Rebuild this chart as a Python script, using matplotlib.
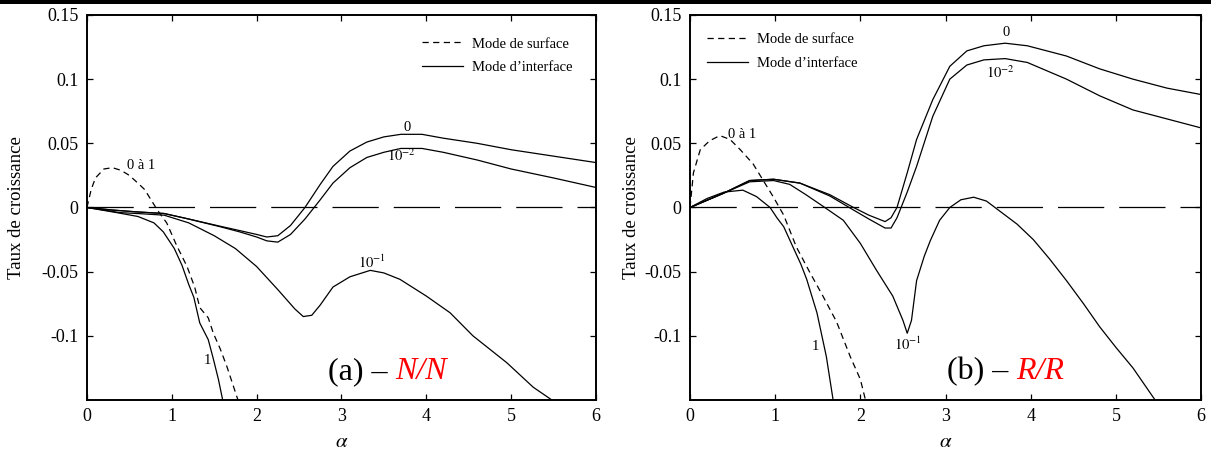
import matplotlib
matplotlib.use('Agg')
import matplotlib.pyplot as plt
from matplotlib.lines import Line2D
from matplotlib.patches import Rectangle

plt.rcParams['font.family'] = ['Liberation Serif', 'DejaVu Serif']
plt.rcParams['mathtext.fontset'] = 'stix'

# ---- data ----
# (a) N/N
nn_surf_x = [0, 0.05, 0.1, 0.2, 0.3, 0.4, 0.5, 0.6, 0.68, 0.83, 0.94, 1.06, 1.18, 1.27, 1.33, 1.43, 1.49, 1.57, 1.65, 1.72, 1.78]
nn_surf_y = [0, 0.014, 0.023, 0.030, 0.031, 0.029, 0.025, 0.019, 0.014, -0.002, -0.012, -0.030, -0.046, -0.062, -0.078, -0.086, -0.098, -0.110, -0.124, -0.138, -0.150]

nn_x = [0, 0.3, 0.6, 0.91, 1.2, 1.57, 1.8, 2.0, 2.12, 2.25, 2.4, 2.57, 2.75, 2.9, 3.1, 3.3, 3.5, 3.7, 3.95, 4.2, 4.6, 5.0, 5.5, 6.0]
nn_0 = [0, -0.002, -0.0035, -0.0047, -0.009, -0.0146, -0.018, -0.021, -0.023, -0.022, -0.014, 0.0, 0.018, 0.032, 0.044, 0.051, 0.055, 0.057, 0.057, 0.054, 0.050, 0.045, 0.040, 0.035]
nn_e2 = [0, -0.002, -0.0035, -0.0047, -0.009, -0.015, -0.019, -0.023, -0.026, -0.027, -0.021, -0.009, 0.006, 0.019, 0.031, 0.039, 0.043, 0.046, 0.046, 0.043, 0.037, 0.030, 0.023, 0.0156]

nn_e1_x = [0, 0.39, 0.67, 0.91, 1.2, 1.5, 1.75, 2.0, 2.25, 2.45, 2.55, 2.65, 2.75, 2.9, 3.1, 3.34, 3.5, 3.69, 4.0, 4.28, 4.55, 4.95, 5.26, 5.48]
nn_e1 = [0, -0.004, -0.005, -0.006, -0.012, -0.022, -0.032, -0.046, -0.064, -0.079, -0.085, -0.084, -0.076, -0.062, -0.054, -0.049, -0.051, -0.056, -0.069, -0.082, -0.100, -0.121, -0.140, -0.150]

nn_one_x = [0, 0.35, 0.6, 0.79, 0.9, 1.03, 1.12, 1.2, 1.26, 1.33, 1.43, 1.49, 1.55, 1.6]
nn_one = [0, -0.004, -0.007, -0.012, -0.019, -0.032, -0.045, -0.060, -0.070, -0.090, -0.103, -0.118, -0.134, -0.150]

# (b) R/R
rr_surf_x = [0, 0.04, 0.12, 0.23, 0.35, 0.47, 0.59, 0.74, 0.86, 0.98, 1.1, 1.25, 1.41, 1.56, 1.72, 1.88, 2.0, 2.06]
rr_surf_y = [0, 0.027, 0.045, 0.052, 0.056, 0.053, 0.045, 0.034, 0.021, 0.008, -0.006, -0.031, -0.051, -0.069, -0.089, -0.116, -0.134, -0.150]

rr_x = [0, 0.39, 0.7, 0.98, 1.29, 1.64, 1.92, 2.1, 2.29, 2.36, 2.43, 2.55, 2.66, 2.85, 3.05, 3.25, 3.45, 3.7, 3.96, 4.42, 4.81, 5.2, 5.6, 6.0]
rr_0 = [0, 0.011, 0.021, 0.022, 0.019, 0.010, 0.0, -0.006, -0.011, -0.008, 0.0, 0.027, 0.053, 0.084, 0.110, 0.122, 0.126, 0.128, 0.126, 0.118, 0.108, 0.100, 0.093, 0.088]
rr_e2 = [0, 0.011, 0.021, 0.022, 0.019, 0.009, -0.002, -0.009, -0.016, -0.016, -0.008, 0.012, 0.032, 0.071, 0.100, 0.111, 0.115, 0.116, 0.113, 0.100, 0.087, 0.076, 0.069, 0.062]

rr_e1_x = [0, 0.39, 0.7, 0.98, 1.17, 1.36, 1.56, 1.8, 2.0, 2.19, 2.38, 2.5, 2.55, 2.6, 2.66, 2.75, 2.82, 2.93, 3.05, 3.18, 3.33, 3.48, 3.64, 3.84, 4.03, 4.22, 4.42, 4.62, 4.81, 5.0, 5.2, 5.46]
rr_e1 = [0, 0.011, 0.020, 0.021, 0.018, 0.010, 0.001, -0.010, -0.028, -0.049, -0.069, -0.088, -0.098, -0.088, -0.057, -0.038, -0.026, -0.010, 0.0, 0.006, 0.008, 0.005, -0.003, -0.013, -0.025, -0.040, -0.057, -0.075, -0.093, -0.109, -0.125, -0.150]

rr_one_x = [0, 0.2, 0.4, 0.62, 0.78, 0.94, 1.02, 1.1, 1.21, 1.3, 1.37, 1.49, 1.6, 1.68]
rr_one = [0, 0.007, 0.012, 0.0135, 0.0085, 0.0, -0.008, -0.015, -0.031, -0.044, -0.056, -0.082, -0.116, -0.150]

xticks = [0, 1, 2, 3, 4, 5, 6]
yticks = [-0.1, -0.05, 0, 0.05, 0.1, 0.15]
ytick_labels = ['-0.1', '-0.05', '0', '0.05', '0.1', '0.15']

fig = plt.figure(figsize=(12.11, 4.55), dpi=100)
ax1 = fig.add_axes([0.0718, 0.1209, 0.4203, 0.8462])
ax2 = fig.add_axes([0.5698, 0.1209, 0.4220, 0.8462])

# black rule at the very top of the page
fig.add_artist(Rectangle((0, 1 - 3.5 / 455), 1, 3.5 / 455, transform=fig.transFigure, color='k', lw=0))

LW = 0.9
SURF = dict(color='k', lw=LW, dashes=(5, 3.5))
INTF = dict(color='k', lw=LW)


def setup(ax, ylab_x):
    ax.axhline(0, color='k', lw=LW, dashes=(37, 12))
    ax.set_xlim(0, 6)
    ax.set_ylim(-0.15, 0.15)
    ax.set_xticks(xticks)
    ax.set_yticks(yticks)
    ax.set_yticklabels(ytick_labels)
    ax.tick_params(direction='in', top=True, right=True, length=4, width=0.9,
                   labelsize=13, pad=6)
    for s in ax.spines.values():
        s.set_linewidth(1.4)
    ax.set_ylabel('Taux de croissance', fontsize=13.5)
    ax.yaxis.set_label_coords(ylab_x, 0.5)
    ax.set_xlabel(r'$\alpha$', fontsize=15)
    ax.xaxis.set_label_coords(0.5, -0.085)


def legend(ax, x, y):
    handles = [Line2D([], [], **SURF), Line2D([], [], **INTF)]
    ax.legend(handles, ['Mode de surface', "Mode d\u2019interface"], loc='upper left',
              bbox_to_anchor=(x, y), frameon=False, fontsize=10.5, handlelength=2.8,
              handletextpad=0.62, labelspacing=0.72, borderpad=0, borderaxespad=0)


def panel_title(ax, x, y, left, right):
    t = ax.text(x, y, left, fontsize=23, va='bottom', ha='left')
    ax.annotate(right, xy=(1, 0), xycoords=t, fontsize=23, va='bottom', ha='left',
                color='red', style='italic')


# ---- (a) N/N ----
setup(ax1, -0.122)
ax1.plot(nn_surf_x, nn_surf_y, **SURF)
ax1.plot(nn_x, nn_0, **INTF)
ax1.plot(nn_x, nn_e2, **INTF)
ax1.plot(nn_e1_x, nn_e1, **INTF)
ax1.plot(nn_one_x, nn_one, **INTF)
ax1.text(0.64, 0.033, '0 \u00e0 1', fontsize=10.5, ha='center', va='center')
ax1.text(3.77, 0.062, '0', fontsize=10.5, ha='center', va='center')
ax1.text(3.71, 0.040, r'$10^{-2}$', fontsize=10.5, ha='center', va='center')
ax1.text(3.36, -0.043, r'$10^{-1}$', fontsize=10.5, ha='center', va='center')
ax1.text(1.42, -0.119, '1', fontsize=10.5, ha='center', va='center')
legend(ax1, 0.658, 0.942)
panel_title(ax1, 2.84, -0.139, '(a) \u2013 ', 'N/N')

# ---- (b) R/R ----
setup(ax2, -0.098)
ax2.plot(rr_surf_x, rr_surf_y, **SURF)
ax2.plot(rr_x, rr_0, **INTF)
ax2.plot(rr_x, rr_e2, **INTF)
ax2.plot(rr_e1_x, rr_e1, **INTF)
ax2.plot(rr_one_x, rr_one, **INTF)
ax2.text(0.61, 0.057, '0 \u00e0 1', fontsize=10.5, ha='center', va='center')
ax2.text(3.71, 0.136, '0', fontsize=10.5, ha='center', va='center')
ax2.text(3.64, 0.105, r'$10^{-2}$', fontsize=10.5, ha='center', va='center')
ax2.text(2.56, -0.107, r'$10^{-1}$', fontsize=10.5, ha='center', va='center')
ax2.text(1.47, -0.108, '1', fontsize=10.5, ha='center', va='center')
legend(ax2, 0.033, 0.953)
panel_title(ax2, 3.02, -0.139, '(b) \u2013 ', 'R/R')

fig.savefig('out.png', dpi=100)
